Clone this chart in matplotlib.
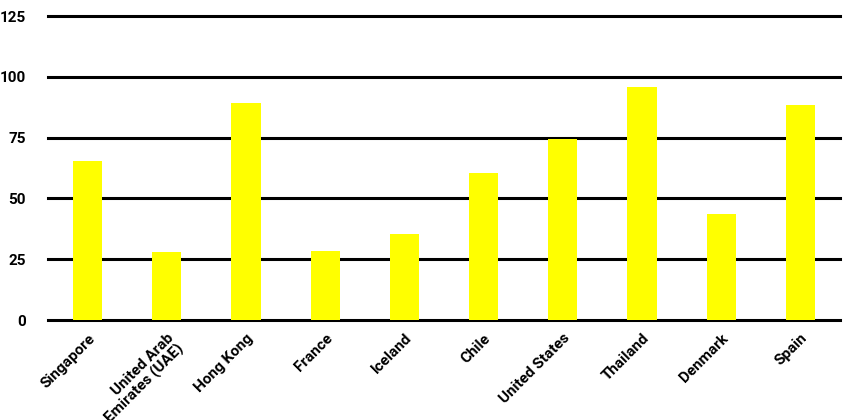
import matplotlib
matplotlib.use("Agg")
import matplotlib.pyplot as plt

categories = ["Singapore", "United Arab\nEmirates (UAE)", "Hong Kong", "France", "Iceland",
              "Chile", "United States", "Thailand", "Denmark", "Spain"]
values = [65.5, 27.8, 89.3, 28.4, 35.5, 60.3, 74.5, 95.9, 43.7, 88.3]
yticks = [0, 25, 50, 75, 100, 125]

plt.rcParams['font.family'] = ['Roboto', 'DejaVu Sans']

fig = plt.figure(figsize=(8.44, 4.2), dpi=100)
ax = fig.add_axes([48/844, 1-320/420, (840-48)/844, (320-16)/420])

x = list(range(len(categories)))
ax.bar(x, values, width=0.37, color="#ffff00", zorder=3)
ax.set_xlim(-0.5, len(categories)-0.5)
ax.set_ylim(0, 125)
ax.set_yticks(yticks)
ax.set_yticklabels([str(t) for t in yticks], fontsize=11, fontweight='bold')
ax.yaxis.grid(True, color='black', linewidth=2.2, zorder=1)
for gl in ax.yaxis.get_gridlines():
    gl.set_clip_on(False)
ax.set_axisbelow(True)
for s in ax.spines.values():
    s.set_visible(False)
ax.tick_params(axis='both', length=0)
ax.tick_params(axis='y', pad=16)
ax.set_xticks(x)
ax.set_xticklabels(categories, rotation=45, ha='right', rotation_mode='anchor',
                   fontsize=11, fontweight='bold', linespacing=1.0)
ax.tick_params(axis='x', pad=8)
fig.savefig("out.png", dpi=100)
